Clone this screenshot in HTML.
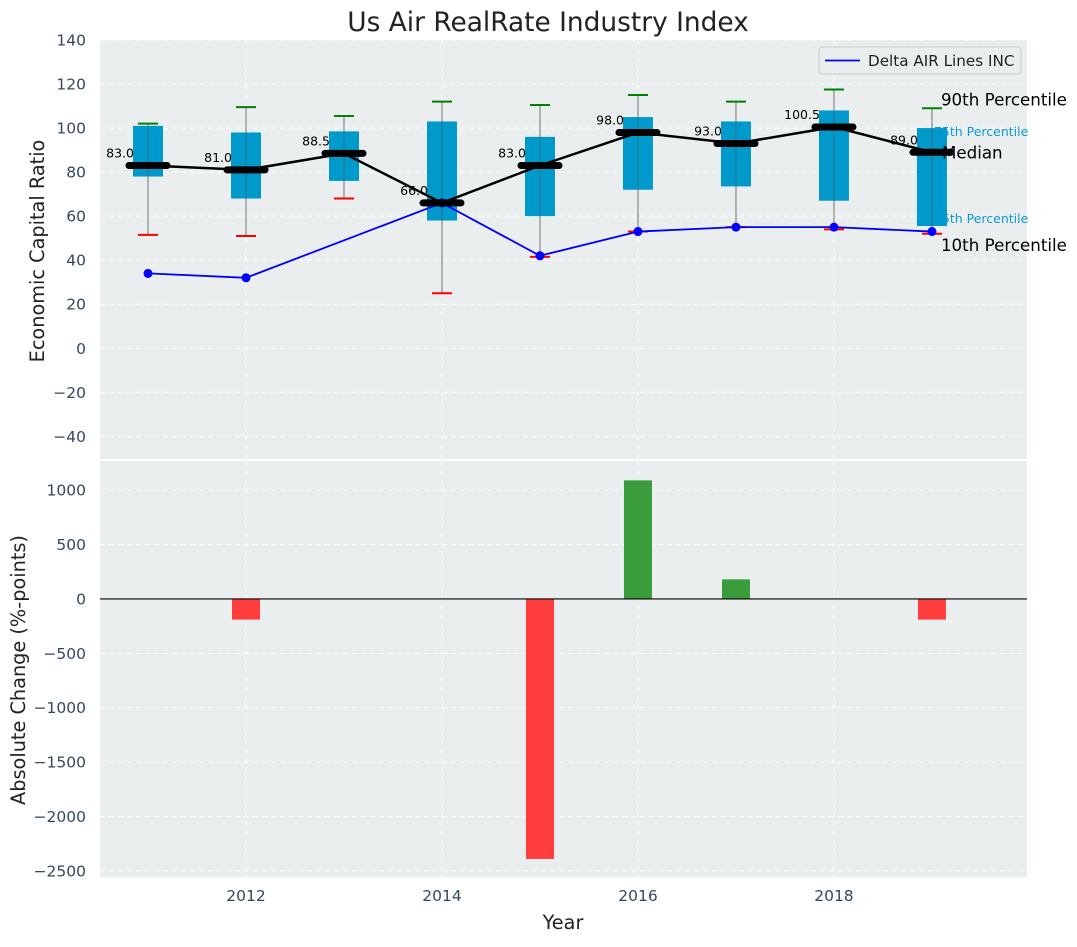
<!DOCTYPE html>
<html><head><meta charset="utf-8"><style>
body{margin:0;background:#fff;font-family:"Liberation Sans","DejaVu Sans",sans-serif}
svg text{font-family:"DejaVu Sans","Liberation Sans",sans-serif}
</style></head><body>
<svg id="chart" width="1077" height="942" viewBox="0 0 1077 942" xmlns="http://www.w3.org/2000/svg"></svg>
<script>
const years=[2011,2012,2013,2014,2015,2016,2017,2018,2019];
const q1=[78,68,76,58,60,72,73.5,67,55.5];
const q3=[101,98,98.5,103,96,105,103,108,100];
const p10=[51.5,51,68,25,41.5,53,55,54,52];
const p90=[102,109.5,105.5,112,110.5,115,112,117.5,109];
const medians=[83,81,88.5,66,83,98,93,100.5,89];
const deltaYears=[2011,2012,2014,2015,2016,2017,2018,2019];
const deltaVals=[34,32,66,42,53,55,55,53];
const changeYears=[2011,2012,2013,2014,2015,2016,2017,2018,2019];
const changeVals=[0,-190,0,0,-2390,1090,180,0,-190];
const topTicks=[-40,-20,0,20,40,60,80,100,120,140];
const botTicks=[-2500,-2000,-1500,-1000,-500,0,500,1000];
const xTicks=[2012,2014,2016,2018];

const NS="http://www.w3.org/2000/svg";
const svg=document.getElementById('chart');
function mk(tag,attrs,parent){const e=document.createElementNS(NS,tag);for(const k in attrs)e.setAttribute(k,attrs[k]);(parent||svg).appendChild(e);return e;}
const L=100,R=1027,T1=40,B1=459,T2=461,B2=877;
const x=v=>L+(v-2010.51)/(2019.97-2010.51)*(R-L);
const y1=v=>T1+(140-v)/(140+50.3)*(B1-T1);
const y2=v=>T2+(1268-v)/(1268+2556)*(B2-T2);
const TF=15.5;

let bg=mk('rect',{x:L,y:T1,width:R-L,height:B1-T1,fill:'#eaeeee'});

let bg2=mk('rect',{x:L,y:T2,width:R-L,height:B2-T2,fill:'#eaeeee'});


topTicks.forEach(t=>{mk('line',{x1:L,x2:R,y1:y1(t),y2:y1(t),stroke:'#fff','stroke-dasharray':'5,4','stroke-width':1});
 const tx=mk('text',{x:L-14,y:y1(t)+5.5,'text-anchor':'end','font-size':TF,fill:'#34495e'});tx.textContent=t<0?'\u2212'+(-t):t;
 });
botTicks.forEach(t=>{mk('line',{x1:L,x2:R,y1:y2(t),y2:y2(t),stroke:'#fff','stroke-dasharray':'5,4','stroke-width':1});
 const tx=mk('text',{x:L-14,y:y2(t)+5.5,'text-anchor':'end','font-size':TF,fill:'#34495e'});tx.textContent=t<0?'\u2212'+(-t):t;
 });
xTicks.forEach(t=>{mk('line',{x1:x(t),x2:x(t),y1:T1,y2:B1,stroke:'#fff','stroke-dasharray':'5,4'});
 mk('line',{x1:x(t),x2:x(t),y1:T2,y2:B2,stroke:'#fff','stroke-dasharray':'5,4'});
 const tx=mk('text',{x:x(t),y:B2+24,'text-anchor':'middle','font-size':TF,fill:'#34495e'});tx.textContent=t;
 });

const li=years.length-1, ax=x(years[li])+9;
let t90=mk('text',{x:ax,y:y1(p90[li])-3,'font-size':16.7,fill:'#000'});t90.textContent='90th Percentile';

let t10=mk('text',{x:ax,y:y1(p10[li])+17,'font-size':16.7,fill:'#000'});t10.textContent='10th Percentile';

let t75=mk('text',{x:x(years[li])+2,y:y1(q3[li])+8,'font-size':12.5,fill:'#0e9ad0'});t75.textContent='75th Percentile';

let t25=mk('text',{x:x(years[li])+2,y:y1(q1[li])-3,'font-size':12.5,fill:'#0e9ad0'});t25.textContent='25th Percentile';


years.forEach((yr,i)=>{const cx=x(yr);
 const w=mk('line',{x1:cx,x2:cx,y1:y1(p90[i]),y2:y1(p10[i]),stroke:'#888','stroke-width':1.2});
 
 const b=mk('rect',{x:cx-15,y:y1(q3[i]),width:30,height:y1(q1[i])-y1(q3[i]),fill:'#0099cc'});
 
 mk('line',{x1:cx,x2:cx,y1:y1(q3[i]),y2:y1(q1[i]),stroke:'#555','stroke-width':1,opacity:0.6});
 const c1=mk('line',{x1:cx-10,x2:cx+10,y1:y1(p90[i]),y2:y1(p90[i]),stroke:'green','stroke-width':2});
 
 const c2=mk('line',{x1:cx-10,x2:cx+10,y1:y1(p10[i]),y2:y1(p10[i]),stroke:'red','stroke-width':2});
 
});
const mp=years.map((yr,i)=>x(yr)+','+y1(medians[i])).join(' ');
const ml=mk('polyline',{points:mp,fill:'none',stroke:'#000','stroke-width':2.5});

const dp=deltaYears.map((yr,i)=>x(yr)+','+y1(deltaVals[i])).join(' ');
const dl=mk('polyline',{points:dp,fill:'none',stroke:'#0000ff','stroke-width':1.8});

deltaYears.forEach((yr,i)=>{const c=mk('circle',{cx:x(yr),cy:y1(deltaVals[i]),r:4.5,fill:'#0000ff'});
 });
years.forEach((yr,i)=>{const cx=x(yr);
 const m=mk('line',{x1:cx-19,x2:cx+19,y1:y1(medians[i]),y2:y1(medians[i]),stroke:'#000','stroke-width':7,'stroke-linecap':'round'});
 
 const t=mk('text',{x:cx-14,y:y1(medians[i])-8,'text-anchor':'end','font-size':12.5,fill:'#000'});t.textContent=medians[i].toFixed(1);
 });
const md=mk('text',{x:ax+1,y:y1(medians[li])+6,'font-size':16.7,fill:'#000'});md.textContent='Median';


changeYears.forEach((yr,i)=>{const v=changeVals[i];if(!v)return;
 const r=mk('rect',{x:x(yr)-14,y:Math.min(y2(0),y2(v)),width:28,height:Math.abs(y2(v)-y2(0)),fill:v>0?'#3a9c3a':'#ff3d3d'});
 });
mk('line',{x1:L,x2:R,y1:y2(0),y2:y2(0),stroke:'#000','stroke-width':1.2});

const lg=mk('g',{});
mk('rect',{x:819,y:47,width:202,height:27,rx:3,fill:'#eaeeee',stroke:'#ccc'},lg);
mk('line',{x1:825,x2:860,y1:60.5,y2:60.5,stroke:'#0000ff','stroke-width':1.8},lg);
const lt=mk('text',{x:868,y:66,'font-size':15.2,fill:'#222'},lg);lt.textContent='Delta AIR Lines INC';

const tt=mk('text',{x:548,y:31,'text-anchor':'middle','font-size':26.4,fill:'#222'});tt.textContent='Us Air RealRate Industry Index';

const yl=mk('text',{x:0,y:0,'text-anchor':'middle','font-size':19.3,fill:'#222',transform:'translate(44,251) rotate(-90)'});yl.textContent='Economic Capital Ratio';

const yl2=mk('text',{x:0,y:0,'text-anchor':'middle','font-size':19.3,fill:'#222',transform:'translate(25,670) rotate(-90)'});yl2.textContent='Absolute Change (%-points)';

const xl=mk('text',{x:563,y:929,'text-anchor':'middle','font-size':19.3,fill:'#222'});xl.textContent='Year';

</script>
</body></html>
